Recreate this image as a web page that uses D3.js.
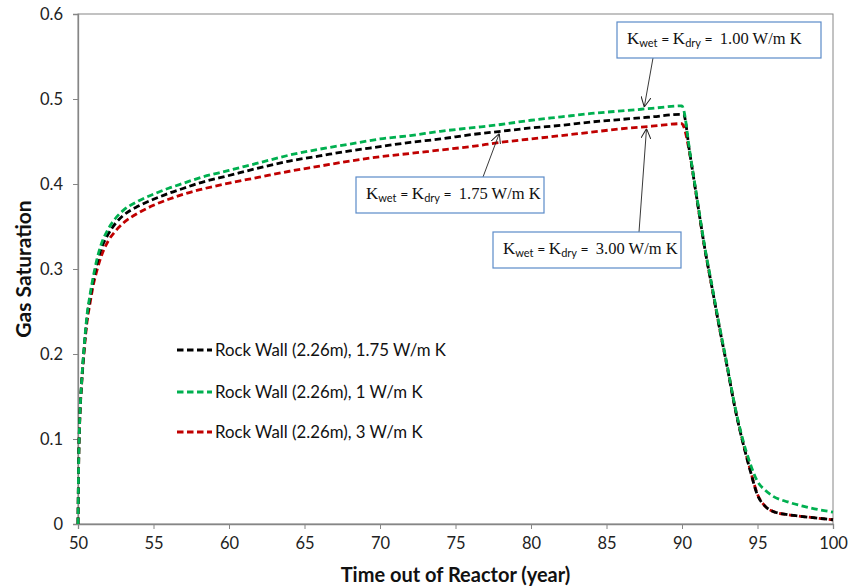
<!DOCTYPE html>
<html>
<head>
<meta charset="utf-8">
<script src="https://cdn.jsdelivr.net/npm/d3@7"></script>
<style>
  html, body { margin: 0; padding: 0; background: #fff; }
  svg { display: block; }
  .tick text { font-family: Lato, "Open Sans", sans-serif; }
  .callout { white-space: pre; }
</style>
</head>
<body>
<svg id="chart" width="852" height="588"></svg>
<script>
// Time after leaving the reactor (years)
const years = [50, 50.05, 50.1, 50.25, 50.4, 50.6, 50.8, 51, 51.25, 51.5, 52, 52.5, 53, 54, 55, 56, 57, 58,
  60, 62, 64, 66, 68, 70, 72, 74, 76, 78, 80, 82, 84, 86, 88, 90, 90.1, 90.5, 91, 91.5, 92, 92.5, 93,
  93.5, 94, 94.5, 95, 95.5, 96, 97, 98, 99, 100];

// Gas saturation at the rock wall (2.26 m) for three thermal conductivities
const sat175 = [0, 0.08, 0.115, 0.169, 0.205, 0.243, 0.266, 0.286, 0.306, 0.322, 0.341, 0.354, 0.363, 0.374, 0.382, 0.389, 0.395, 0.401,
  0.410, 0.419, 0.427, 0.433, 0.439, 0.444, 0.449, 0.453, 0.458, 0.462, 0.466, 0.469, 0.473, 0.476, 0.479, 0.482, 0.482, 0.438, 0.381, 0.325, 0.277, 0.229, 0.184,
  0.137, 0.098, 0.064, 0.034, 0.021, 0.015, 0.011, 0.0088, 0.0068, 0.005];
const sat100 = [0, 0.08, 0.115, 0.17, 0.207, 0.246, 0.27, 0.29, 0.311, 0.327, 0.347, 0.360, 0.369, 0.380, 0.388, 0.395, 0.401, 0.407,
  0.416, 0.425, 0.434, 0.441, 0.447, 0.453, 0.457, 0.462, 0.466, 0.470, 0.475, 0.479, 0.483, 0.486, 0.489, 0.492, 0.488, 0.440, 0.383, 0.327, 0.279, 0.231, 0.186,
  0.139, 0.101, 0.072, 0.050, 0.040, 0.033, 0.026, 0.021, 0.017, 0.014];
const sat300 = [0, 0.08, 0.113, 0.167, 0.202, 0.238, 0.26, 0.28, 0.298, 0.313, 0.333, 0.345, 0.354, 0.366, 0.375, 0.382, 0.388, 0.393,
  0.401, 0.408, 0.415, 0.421, 0.427, 0.432, 0.436, 0.440, 0.444, 0.449, 0.453, 0.457, 0.461, 0.465, 0.468, 0.471, 0.468, 0.437, 0.381, 0.325, 0.277, 0.229, 0.185,
  0.138, 0.099, 0.065, 0.035, 0.021, 0.015, 0.011, 0.0088, 0.0068, 0.005];

const seriesNames = ["Rock Wall (2.26m), 1.75 W/m K", "Rock Wall (2.26m), 1 W/m K", "Rock Wall (2.26m), 3 W/m K"];
const seriesValues = [sat175, sat100, sat300];
const seriesColors = ["#000000", "#00B050", "#C00000"];

const xTicks = [50, 55, 60, 65, 70, 75, 80, 85, 90, 95, 100];
const yTicks = [0, 0.1, 0.2, 0.3, 0.4, 0.5, 0.6];

// Callout boxes: conductivity value, series index, year the arrow points to
const calloutValues = ["1.00", "1.75", "3.00"];
const calloutSeries = [1, 0, 2];
const calloutYears = [87.5, 77.9, 87.65];

const svg = d3.select("#chart");
const margin = { left: 78, right: 19, top: 14, bottom: 64 };
const W = 852, H = 588;
const x = d3.scaleLinear().domain([50, 100]).range([margin.left, W - margin.right]);
const y = d3.scaleLinear().domain([0, 0.6]).range([H - margin.bottom, margin.top]);

const axisColor = "#868686";
const sans = "Lato, 'Open Sans', sans-serif";
const serif = "'Liberation Serif', 'DejaVu Serif', serif";

// plot-area frame
svg.append("rect")
  .attr("x", x(50)).attr("y", y(0.6))
  .attr("width", x(100) - x(50)).attr("height", y(0) - y(0.6))
  .attr("fill", "none").attr("stroke", axisColor).attr("stroke-width", 1);

// axes
const xAxis = svg.append("g")
  .attr("transform", `translate(0,${y(0)})`)
  .call(d3.axisBottom(x).tickValues(xTicks).tickSize(5).tickPadding(8).tickFormat(d3.format("d")));
const yAxis = svg.append("g")
  .attr("transform", `translate(${x(50)},0)`)
  .call(d3.axisLeft(y).tickValues(yTicks).tickSize(5).tickPadding(10).tickFormat(d => d === 0 ? "0" : d3.format(".1f")(d)));
[xAxis, yAxis].forEach(a => {
  a.select(".domain").attr("stroke", axisColor).attr("stroke-width", 1.3);
  a.selectAll(".tick line").attr("stroke", axisColor);
  a.selectAll(".tick text").attr("fill", "#222").style("font-size", "16.5px");
});

// axis titles
svg.append("text")
  .attr("x", (x(50) + x(100)) / 2).attr("y", 582)
  .attr("text-anchor", "middle")
  .style("font-family", sans).style("font-weight", "bold").style("font-size", "20px")
  .attr("fill", "#111")
  .text("Time out of Reactor (year)");
svg.append("text")
  .attr("transform", `translate(31,${(y(0) + y(0.6)) / 2}) rotate(-90)`)
  .attr("text-anchor", "middle")
  .style("font-family", sans).style("font-weight", "bold").style("font-size", "21px")
  .attr("fill", "#111")
  .text("Gas Saturation");

// series lines
const line = d3.line()
  .x(d => x(d[0])).y(d => y(d[1]))
  .curve(d3.curveMonotoneX);

const drawOrder = [2, 0, 1];
drawOrder.forEach(i => {
  const pts = years.map((t, k) => [t, seriesValues[i][k]]);
  svg.append("path")
    .datum(pts)
    .attr("d", line)
    .attr("fill", "none")
    .attr("stroke", seriesColors[i])
    .attr("stroke-width", 2.8)
    .attr("stroke-dasharray", "6.5,3.5");
});

// legend
const legend = svg.append("g");
const legendY = [350, 392, 432];
seriesNames.forEach((name, i) => {
  legend.append("line")
    .attr("x1", 177).attr("x2", 212)
    .attr("y1", legendY[i]).attr("y2", legendY[i])
    .attr("stroke", seriesColors[i]).attr("stroke-width", 2.8)
    .attr("stroke-dasharray", "6.5,3.5");
  legend.append("text")
    .attr("x", 215).attr("y", legendY[i]).attr("dy", "0.35em")
    .style("font-family", sans).style("font-size", "16.8px")
    .attr("fill", "#111")
    .text(name);
});

// callouts with arrows
svg.append("defs").append("marker")
  .attr("id", "openArrow")
  .attr("viewBox", "0 0 10 10").attr("refX", 10).attr("refY", 5)
  .attr("markerWidth", 10).attr("markerHeight", 10)
  .attr("markerUnits", "userSpaceOnUse")
  .attr("orient", "auto")
  .append("path")
  .attr("d", "M0,0 L10,5 L0,10")
  .attr("fill", "none").attr("stroke", "#222").attr("stroke-width", 1);

const boxes = [
  { x: 617, y: 22, w: 204, h: 36, ax: 653, ay: 58 },
  { x: 356, y: 177, w: 188, h: 36, ax: 483, ay: 177 },
  { x: 493, y: 232, w: 188, h: 36, ax: 639, ay: 232 }
];

function valueAt(series, t) {
  const i = d3.bisectLeft(years, t);
  const t0 = years[i - 1], t1 = years[i];
  const v0 = series[i - 1], v1 = series[i];
  return v0 + (v1 - v0) * (t - t0) / (t1 - t0);
}

boxes.forEach((b, i) => {
  const tx = x(calloutYears[i]);
  const ty = y(valueAt(seriesValues[calloutSeries[i]], calloutYears[i]));
  const dir = ty < b.ay ? -1 : 1;
  svg.append("line")
    .attr("x1", b.ax).attr("y1", b.ay)
    .attr("x2", tx).attr("y2", ty - dir * 2)
    .attr("stroke", "#222").attr("stroke-width", 0.9)
    .attr("marker-end", "url(#openArrow)");

  svg.append("rect")
    .attr("x", b.x).attr("y", b.y).attr("width", b.w).attr("height", b.h)
    .attr("fill", "#fff").attr("stroke", "#5B8BC9").attr("stroke-width", 1.2);

  const t = svg.append("text")
    .attr("class", "callout")
    .attr("x", b.x + 10).attr("y", b.y + 22)
    .attr("fill", "#111");
  t.append("tspan").style("font-family", serif).style("font-size", "17px").text("K");
  t.append("tspan").style("font-family", sans).style("font-size", "11px").attr("dy", 3).text("wet");
  t.append("tspan").style("font-family", sans).style("font-size", "14px").attr("dy", -3).text(" = ");
  t.append("tspan").style("font-family", serif).style("font-size", "17px").text("K");
  t.append("tspan").style("font-family", sans).style("font-size", "11px").attr("dy", 3).text("dry");
  t.append("tspan").style("font-family", sans).style("font-size", "14px").attr("dy", -3).text(" =  ");
  t.append("tspan").style("font-family", serif).style("font-size", "16.5px").text(calloutValues[i] + " W/m K");
});
</script>
</body>
</html>
